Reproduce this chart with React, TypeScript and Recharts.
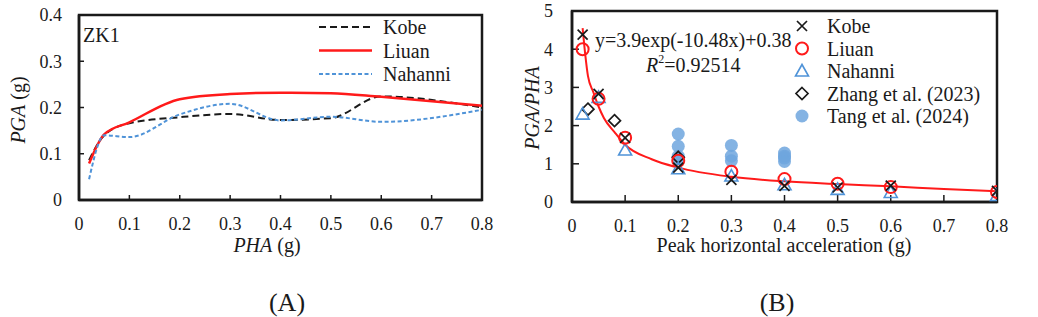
import React from 'react';
import {
  LineChart,
  Line,
  XAxis,
  YAxis,
  ComposedChart,
  Scatter,
  ReferenceArea,
  Customized,
  Legend,
} from 'recharts';

const FONT = '"Liberation Serif", "Times New Roman", serif';

// ---------- Chart (A): PGA vs PHA ----------
const phaA = [0.02, 0.05, 0.1, 0.2, 0.3, 0.4, 0.5, 0.6, 0.8];
const kobePGA = [0.086, 0.14, 0.166, 0.179, 0.186, 0.173, 0.177, 0.224, 0.2];
const liuanPGA = [0.079, 0.142, 0.168, 0.218, 0.229, 0.232, 0.231, 0.223, 0.204];
const nahanniPGA = [0.045, 0.14, 0.136, 0.185, 0.208, 0.172, 0.18, 0.169, 0.195];
const xTicksA = [0, 0.1, 0.2, 0.3, 0.4, 0.5, 0.6, 0.7, 0.8];
const yTicksA = [0, 0.1, 0.2, 0.3, 0.4];

// ---------- Chart (B): PGA/PHA vs peak horizontal acceleration ----------
const phaB = [0.02, 0.05, 0.1, 0.2, 0.3, 0.4, 0.5, 0.6, 0.8];
const kobeRatio = [4.38, 2.83, 1.68, 0.9, 0.58, 0.42, 0.38, 0.43, 0.29];
const liuanRatio = [4.0, 2.7, 1.68, 1.08, 0.79, 0.6, 0.48, 0.39, 0.26];
const nahanniRatio = [2.3, 2.74, 1.36, 0.87, 0.68, 0.45, 0.33, 0.25, 0.17];
const zhangX = [0.03, 0.08, 0.2];
const zhangY = [2.43, 2.13, 1.17];
const tangX = [0.2, 0.2, 0.2, 0.2, 0.3, 0.3, 0.3, 0.4, 0.4, 0.4, 0.4];
const tangY = [1.78, 1.46, 1.2, 1.13, 1.48, 1.2, 1.08, 1.28, 1.2, 1.15, 1.06];
const fitX = [0.02, 0.025, 0.03, 0.04, 0.05, 0.06, 0.08, 0.1, 0.15, 0.2, 0.3, 0.4, 0.5, 0.6, 0.7, 0.8];
const fitY = [4.55, 3.85, 3.3, 2.88, 2.5, 2.2, 1.83, 1.5, 1.12, 0.9, 0.66, 0.54, 0.47, 0.41, 0.34, 0.28];
const xTicksB = [0, 0.1, 0.2, 0.3, 0.4, 0.5, 0.6, 0.7, 0.8];
const yTicksB = [0, 1, 2, 3, 4, 5];

const zip = (xs: number[], ys: number[]) => xs.map((x, i) => ({ x, y: ys[i] }));

const kobeA = zip(phaA, kobePGA);
const liuanA = zip(phaA, liuanPGA);
const nahanniA = zip(phaA, nahanniPGA);

const kobeB = zip(phaB, kobeRatio);
const liuanB = zip(phaB, liuanRatio);
const nahanniB = zip(phaB, nahanniRatio);
const zhangB = zip(zhangX, zhangY);
const tangB = zip(tangX, tangY);
const fitB = zip(fitX, fitY);

const INK = '#1a1a1a';
const RED = '#ff1a1a';
const BLUE = '#4f93d8';
const LIGHTBLUE = '#6ea6de';

const fmt = (v: number) => (v === 0 ? '0' : String(v));

const tickStyle = { fontSize: 18, fill: INK, fontFamily: FONT };

// ---------- marker shapes ----------
const Cross = (cx: number, cy: number, s = 5) => (
  <path
    d={`M${cx - s},${cy - s}L${cx + s},${cy + s}M${cx - s},${cy + s}L${cx + s},${cy - s}`}
    stroke={INK}
    strokeWidth={1.7}
    fill="none"
  />
);
const Circ = (cx: number, cy: number) => (
  <circle cx={cx} cy={cy} r={6} stroke={RED} strokeWidth={2} fill="none" />
);
const Tri = (cx: number, cy: number) => (
  <path
    d={`M${cx},${cy - 6.5}L${cx + 6.5},${cy + 5}L${cx - 6.5},${cy + 5}Z`}
    stroke={BLUE}
    strokeWidth={1.6}
    fill="none"
  />
);
const Dia = (cx: number, cy: number) => (
  <path
    d={`M${cx},${cy - 6}L${cx + 6},${cy}L${cx},${cy + 6}L${cx - 6},${cy}Z`}
    stroke={INK}
    strokeWidth={1.7}
    fill="none"
  />
);
const Dot = (cx: number, cy: number) => (
  <circle cx={cx} cy={cy} r={6.5} fill={LIGHTBLUE} fillOpacity={0.85} stroke="none" />
);

const legendA = [
  { name: 'Kobe', color: INK, width: 2, dash: '7 4' },
  { name: 'Liuan', color: RED, width: 2.5, dash: undefined },
  { name: 'Nahanni', color: BLUE, width: 2, dash: '4 2.5' },
];

const legendB = [
  { name: 'Kobe', draw: Cross },
  { name: 'Liuan', draw: Circ },
  { name: 'Nahanni', draw: Tri },
  { name: 'Zhang et al. (2023)', draw: Dia },
  { name: 'Tang et al. (2024)', draw: Dot },
];

const LegendA = () => (
  <svg width={200} height={80} style={{ display: 'block' }}>
    {legendA.map((it, i) => {
      const y = 15 + i * 23.5;
      return (
        <g key={it.name}>
          <line x1={4} x2={57} y1={y} y2={y} stroke={it.color} strokeWidth={it.width} strokeDasharray={it.dash} />
          <text x={68} y={y} dominantBaseline="central" fontFamily={FONT} fontSize={20} fill={INK}>
            {it.name}
          </text>
        </g>
      );
    })}
  </svg>
);

const LegendB = () => (
  <svg width={230} height={120} style={{ display: 'block' }}>
    {legendB.map((it, i) => {
      const y = 16 + i * 22.5;
      return (
        <g key={it.name}>
          {it.draw(12, y)}
          <text x={37} y={y} dominantBaseline="central" fontFamily={FONT} fontSize={20} fill={INK}>
            {it.name}
          </text>
        </g>
      );
    })}
  </svg>
);

const AnnotA = () => (
  <g fontFamily={FONT} fill={INK}>
    <text x={83} y={35} dominantBaseline="central" fontSize={20}>ZK1</text>
    <text transform="translate(18,110) rotate(-90)" textAnchor="middle" dominantBaseline="central" fontSize={20}>
      <tspan fontStyle="italic">PGA</tspan> (g)
    </text>
    <text x={267} y={245} textAnchor="middle" dominantBaseline="central" fontSize={20}>
      <tspan fontStyle="italic">PHA</tspan> (g)
    </text>
    <text x={287} y={302} textAnchor="middle" dominantBaseline="central" fontSize={26}>(A)</text>
  </g>
);

const AnnotB = () => (
  <g fontFamily={FONT} fill={INK}>
    <text x={75} y={40} dominantBaseline="central" fontSize={20}>y=3.9exp(-10.48x)+0.38</text>
    <text x={126} y={65} dominantBaseline="central" fontSize={20}>
      <tspan fontStyle="italic">R</tspan>
      <tspan fontSize={12} dy={-6}>2</tspan>
      <tspan dy={6}>=0.92514</tspan>
    </text>
    <text transform="translate(12,108) rotate(-90)" textAnchor="middle" dominantBaseline="central" fontSize={20}>
      <tspan fontStyle="italic">PGA/PHA</tspan>
    </text>
    <text x={264} y={245} textAnchor="middle" dominantBaseline="central" fontSize={20}>
      Peak horizontal acceleration (g)
    </text>
    <text x={257} y={302} textAnchor="middle" dominantBaseline="central" fontSize={26}>(B)</text>
  </g>
);

export default function App() {
  return (
    <div style={{ position: 'absolute', left: 0, top: 0, width: 1038, height: 317, background: '#fff', overflow: 'hidden' }}>
      <div style={{ position: 'absolute', left: 0, top: 0 }}>
        <LineChart width={520} height={317} margin={{ top: 15, right: 38, bottom: 57, left: 19 }}>
          <XAxis
            type="number"
            dataKey="x"
            domain={[0, 0.8]}
            ticks={xTicksA}
            interval={0}
            tickFormatter={fmt}
            height={60}
            tick={tickStyle}
            tickSize={-5}
            tickMargin={22}
            axisLine={{ stroke: INK, strokeWidth: 2.5 }}
            tickLine={{ stroke: INK, strokeWidth: 1.5 }}
            allowDataOverflow
          />
          <YAxis
            type="number"
            domain={[0, 0.4]}
            ticks={yTicksA}
            interval={0}
            tickFormatter={fmt}
            width={60}
            tick={tickStyle}
            tickSize={-5}
            tickMargin={22}
            axisLine={{ stroke: INK, strokeWidth: 2.5 }}
            tickLine={{ stroke: INK, strokeWidth: 1.5 }}
            allowDataOverflow
          />
          <ReferenceArea x1={0} x2={0.8} y1={0} y2={0.4} fill="none" stroke={INK} strokeWidth={2.5} />
          <Line data={kobeA} dataKey="y" name="Kobe" type="monotone" stroke={INK} strokeWidth={2} strokeDasharray="7 4" dot={false} isAnimationActive={false} />
          <Line data={liuanA} dataKey="y" name="Liuan" type="monotone" stroke={RED} strokeWidth={2.5} dot={false} isAnimationActive={false} />
          <Line data={nahanniA} dataKey="y" name="Nahanni" type="monotone" stroke={BLUE} strokeWidth={2} strokeDasharray="4 2.5" dot={false} isAnimationActive={false} />
          <Legend
            layout="vertical"
            align="center"
            verticalAlign="middle"
            wrapperStyle={{ left: 315, top: 12, width: 200, height: 80 }}
            content={() => <LegendA />}
          />
          <Customized component={AnnotA} />
        </LineChart>
      </div>
      <div style={{ position: 'absolute', left: 520, top: 0 }}>
        <ComposedChart width={518} height={317} margin={{ top: 11, right: 41, bottom: 55, left: 12 }}>
          <XAxis
            type="number"
            dataKey="x"
            domain={[0, 0.8]}
            ticks={xTicksB}
            interval={0}
            tickFormatter={fmt}
            height={60}
            tick={tickStyle}
            tickSize={-7}
            tickMargin={24}
            axisLine={{ stroke: INK, strokeWidth: 2.5 }}
            tickLine={{ stroke: INK, strokeWidth: 1.5 }}
            allowDataOverflow
          />
          <YAxis
            type="number"
            dataKey="y"
            domain={[0, 5]}
            ticks={yTicksB}
            interval={0}
            tickFormatter={fmt}
            width={40}
            tick={tickStyle}
            tickSize={-7}
            tickMargin={26}
            axisLine={{ stroke: INK, strokeWidth: 2.5 }}
            tickLine={{ stroke: INK, strokeWidth: 1.5 }}
            allowDataOverflow
          />
          <ReferenceArea x1={0} x2={0.8} y1={0} y2={5} fill="none" stroke={INK} strokeWidth={2.5} />
          <Scatter data={tangB} name="Tang et al. (2024)" isAnimationActive={false} shape={(p: any) => Dot(p.cx, p.cy)} />
          <Scatter data={zhangB} name="Zhang et al. (2023)" isAnimationActive={false} shape={(p: any) => Dia(p.cx, p.cy)} />
          <Scatter data={nahanniB} name="Nahanni" isAnimationActive={false} shape={(p: any) => Tri(p.cx, p.cy)} />
          <Scatter data={liuanB} name="Liuan" isAnimationActive={false} shape={(p: any) => Circ(p.cx, p.cy)} />
          <Scatter data={kobeB} name="Kobe" isAnimationActive={false} shape={(p: any) => Cross(p.cx, p.cy)} />
          <Line data={fitB} dataKey="y" name="fit" type="monotone" stroke={RED} strokeWidth={2} dot={false} isAnimationActive={false} legendType="none" />
          <Legend
            layout="vertical"
            align="center"
            verticalAlign="middle"
            wrapperStyle={{ left: 270, top: 10, width: 230, height: 120 }}
            content={() => <LegendB />}
          />
          <Customized component={AnnotB} />
        </ComposedChart>
      </div>
    </div>
  );
}
